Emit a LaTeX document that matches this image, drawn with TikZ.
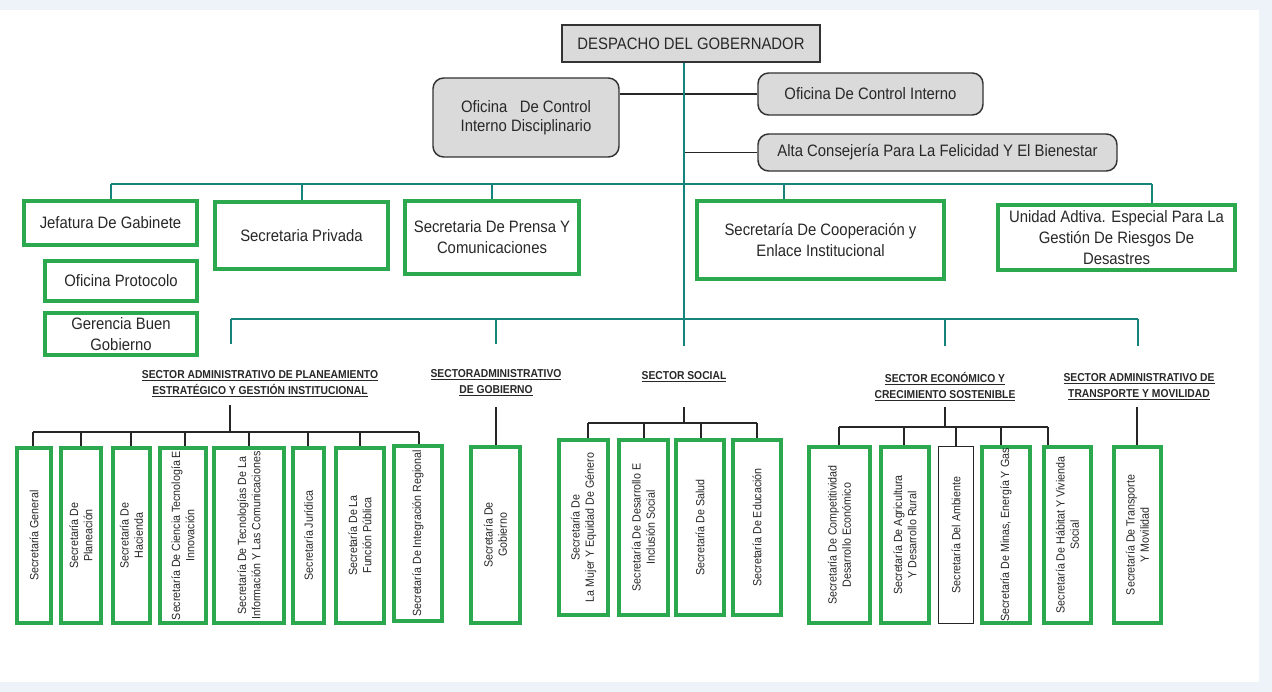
\documentclass[tikz,border=0pt]{standalone}
\usepackage{fontspec}
\setmainfont{Liberation Sans}[FakeStretch=0.9]
\definecolor{bgout}{RGB}{238,243,249}
\definecolor{gr}{RGB}{44,168,78}
\definecolor{teal}{RGB}{22,132,122}
\definecolor{gfill}{RGB}{218,218,218}
\definecolor{txt}{RGB}{40,40,40}
\begin{document}
\begin{tikzpicture}[x=0.75pt,y=-0.75pt,
  every node/.style={text=txt, inner sep=0pt, align=center},
  topfont/.style={font=\fontsize{12.4}{15.8}\selectfont},
  botfont/.style={font=\fontsize{8.9}{10.7}\selectfont},
  secfont/.style={font=\bfseries\fontsize{8.6}{12}\selectfont},
  graybox/.style={draw=black!80, fill=gfill, line width=1.1pt, topfont},
  grayround/.style={graybox, rounded corners=8pt},
  gbox/.style={draw=gr, line width=2.7pt, fill=white},
  thinbox/.style={draw=black!85, line width=1pt, fill=white},
  tline/.style={draw=teal, line width=1.3pt},
  trunkline/.style={draw=teal, line width=1.6pt},
  bline/.style={draw=black!85, line width=1pt},
  bthick/.style={draw=black!85, line width=1.8pt}
]
\newcommand\tbox[6]{\node[gbox, topfont, minimum width=#4*0.75pt, minimum height=#5*0.75pt] (#1) at (#2,#3) {#6};}
\newcommand\rbox[7][gbox]{\node[#1, botfont, rotate=90, minimum width=#5*0.75pt, minimum height=#6*0.75pt] (#2) at (#3,#4) {#7};}

% background
\fill[bgout] (0,0) rectangle (1272,692);
\fill[white] (0,10) rectangle (1259,682);
\useasboundingbox (0,0) rectangle (1272,692);

% top level
\node[graybox, minimum width=258*0.75pt, minimum height=37*0.75pt] (desp) at (691,43.5) {DESPACHO DEL GOBERNADOR};
\node[grayround, minimum width=186*0.75pt, minimum height=79*0.75pt, font=\fontsize{12.4}{14.3}\selectfont] (disc) at (526,117.5) {Oficina\ \ \ De Control\\Interno Disciplinario};
\node[grayround, minimum width=225*0.75pt, minimum height=42*0.75pt] (ci) at (870.5,94) {Oficina De Control Interno};
\node[grayround, minimum width=359*0.75pt, minimum height=37*0.75pt] (alta) at (937.5,152.5) {Alta Consejería Para La Felicidad Y El Bienestar};

\coordinate (trunk) at (684,0);
\draw[bline] (ci.west) -- (ci.west -| disc.east);
\draw[bline] (alta.west) -| (684,113);
\draw[trunkline] (trunk |- desp.south) -- (684,346);

% second level
\tbox{jef}{110.5}{223}{173.5}{44.5}{Jefatura De Gabinete}
\tbox{prot}{121}{281}{152.5}{40.5}{Oficina Protocolo}
\tbox{ger}{121}{334}{152.5}{42.5}{Gerencia Buen\\Gobierno}
\tbox{priv}{301.5}{235.5}{173.5}{67.5}{Secretaria Privada}
\tbox{pren}{492}{237.5}{174.5}{73.5}{Secretaria De Prensa Y\\Comunicaciones}
\tbox{coop}{820.5}{240}{247.5}{78.5}{Secretaría De Cooperación y\\Enlace Institucional}
\tbox{unid}{1116.5}{237.5}{237.5}{65.5}{Unidad Adtiva. Especial Para La\\Gestión De Riesgos De\\Desastres}

\coordinate (b1l) at (111,184);
\coordinate (b1r) at (1152,184);
\draw[tline] (b1l) -- (b1r);
\draw[tline] (b1l) -- (b1l |- jef.north);
\draw[tline] (302,184) -- (302,0 |- priv.north);
\draw[tline] (492,184) -- (pren.north);
\draw[tline] (784,184) -- (784,0 |- coop.north);
\draw[tline] (b1r) -- (b1r |- unid.north);

% sector bus
\coordinate (b2l) at (231,319);
\coordinate (b2r) at (1138,319);
\draw[tline] (b2l) -- (b2r);
\draw[tline] (b2l) -- (231,344);
\draw[tline] (496,319) -- (496,344);
\draw[tline] (945,319) -- (945,346);
\draw[tline] (b2r) -- (1138,346);

% sector labels
\node[secfont] (s1) at (260,384) {\underline{SECTOR ADMINISTRATIVO DE PLANEAMIENTO}\\\underline{ESTRATÉGICO Y GESTIÓN INSTITUCIONAL}};
\node[secfont] (s2) at (496,383) {\underline{SECTORADMINISTRATIVO}\\\underline{DE GOBIERNO}};
\node[secfont] (s3) at (684,377) {\underline{SECTOR SOCIAL}};
\node[secfont] (s4) at (945,386.5) {\underline{SECTOR ECONÓMICO Y}\\\underline{CRECIMIENTO SOSTENIBLE}};
\node[secfont] (s5) at (1139,386.5) {\underline{SECTOR ADMINISTRATIVO DE}\\\underline{TRANSPORTE Y MOVILIDAD}};

% group 1
\rbox{a1}{34}{535.5}{175.5}{34.5}{Secretaría General}
\rbox{a2}{81}{535.5}{175.5}{40.5}{Secretaría De\\Planeación}
\rbox{a3}{131.5}{535.5}{175.5}{37.5}{Secretaría De\\Hacienda}
\rbox{a4}{183}{535.5}{175.5}{46.5}{Secretaría De Ciencia Tecnología E\\Innovación}
\rbox{a5}{249}{535.5}{175.5}{70.5}{Secretaría De Tecnologías De La\\Información Y Las Comunicaciones}
\rbox{a6}{308.5}{535.5}{175.5}{31.5}{Secretaría Jurídica}
\rbox{a7}{360}{535.5}{175.5}{48.5}{Secretaría De La\\Función Pública}
\rbox{a8}{418}{533.5}{175.5}{48.5}{Secretaría De Integración Regional}
\draw[bthick] (230,405) -- (230,432);
\draw[bline] (33,432) -- (419,432);
\foreach \x/\n in {33/a1,81/a2,131/a3,185/a4,249/a5,308/a6,360/a7,419/a8}
  \draw[bline] (\x,432) -- (\x,0 |- \n.east);

% group 2
\rbox{g1}{495.5}{535}{176.5}{49.5}{Secretaría De\\Gobierno}
\draw[bthick] (496,407) -- (496,0 |- g1.east);

% group 3
\rbox{c1}{583.5}{527.5}{175.5}{49.5}{Secretaría De\\La Mujer Y Equidad De Género}
\rbox{c2}{643.5}{527.5}{175.5}{49.5}{Secretaría De Desarrollo E\\Inclusión Social}
\rbox{c3}{700}{527.5}{175.5}{48.5}{Secretaría De Salud}
\rbox{c4}{757}{527.5}{175.5}{48.5}{Secretaría De Educación}
\draw[bthick] (684,407) -- (684,423);
\draw[bline] (588,423) -- (757,423);
\foreach \x/\n in {588/c1,644/c2,701/c3,757/c4}
  \draw[bline] (\x,423) -- (\x,0 |- \n.east);

% group 4
\rbox{e1}{839.5}{535}{176.5}{61.5}{Secretaría De Competitividad\\Desarrollo Económico}
\rbox{e2}{905}{535}{176.5}{48.5}{Secretaría De Agricultura\\Y Desarrollo Rural}
\rbox[thinbox]{e3}{956}{535}{177}{35}{Secretaría Del Ambiente}
\rbox{e4}{1006}{535}{176.5}{48.5}{Secretaría De Minas, Energía Y Gas}
\rbox{e5}{1067.5}{535}{176.5}{47.5}{Secretaría De Hábitat Y Vivienda\\Social}
\draw[bthick] (945,407) -- (945,427);
\draw[bline] (839,427) -- (1048,427);
\foreach \x/\n in {839/e1,904/e2,956/e3,1001/e4,1048/e5}
  \draw[bline] (\x,427) -- (\x,0 |- \n.east);

% group 5
\rbox{t1}{1137.5}{535}{176.5}{47.5}{Secretaría De Transporte\\Y Movilidad}
\draw[bthick] (1137,407) -- (1137,0 |- t1.east);
\end{tikzpicture}
\end{document}
